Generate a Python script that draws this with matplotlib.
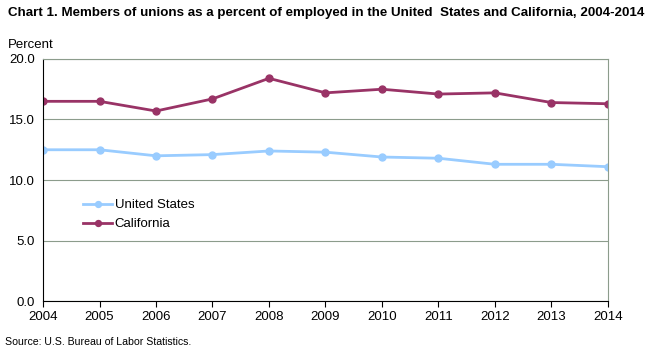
import matplotlib
matplotlib.use("Agg")
import matplotlib.pyplot as plt

plt.rcParams['font.family'] = ['Liberation Sans', 'DejaVu Sans']

years = [2004, 2005, 2006, 2007, 2008, 2009, 2010, 2011, 2012, 2013, 2014]
united_states = [12.5, 12.5, 12.0, 12.1, 12.4, 12.3, 11.9, 11.8, 11.3, 11.3, 11.1]
california = [16.5, 16.5, 15.7, 16.7, 18.4, 17.2, 17.5, 17.1, 17.2, 16.4, 16.3]
y_ticks = [0, 5, 10, 15, 20]

fig = plt.figure(figsize=(6.5, 3.53), dpi=100)
ax = fig.add_axes([0.0662, 0.147, 0.869, 0.686])

grid_col = '#8c9c8c'
ax.plot(years, united_states, color='#99ccff', lw=2, marker='o', ms=5, label='United States')
ax.plot(years, california, color='#993366', lw=2, marker='o', ms=5, label='California')

ax.set_xlim(2004, 2014)
ax.set_ylim(0, 20)
ax.set_xticks(years)
ax.set_yticks(y_ticks)
ax.set_yticklabels([f"{v:.1f}" for v in y_ticks])
ax.tick_params(axis='y', length=0, pad=6, labelsize=9.5)
ax.tick_params(axis='x', length=4, direction='out', pad=3, labelsize=9.5)
ax.grid(axis='y', color=grid_col, lw=0.8)
ax.set_axisbelow(True)

ax.spines['left'].set_color('black')
ax.spines['bottom'].set_color('black')
ax.spines['top'].set_color(grid_col)
ax.spines['right'].set_color(grid_col)
ax.spines['top'].set_linewidth(0.8)
ax.spines['right'].set_linewidth(0.8)

ax.legend(loc='upper left', bbox_to_anchor=(0.05, 0.47), frameon=False,
          fontsize=9.5, handlelength=2.2, handletextpad=0.2, labelspacing=0.5,
          markerscale=0.85)

fig.text(0.012, 0.963, "Chart 1. Members of unions as a percent of employed in the United  States and California, 2004-2014",
         fontsize=9.6, fontweight='bold', va='center', ha='left')
fig.text(0.012, 0.873, "Percent", fontsize=9.5, va='center', ha='left')
fig.text(0.008, 0.031, "Source: U.S. Bureau of Labor Statistics.", fontsize=7.6, va='center', ha='left')

fig.savefig("out.png", dpi=100)
